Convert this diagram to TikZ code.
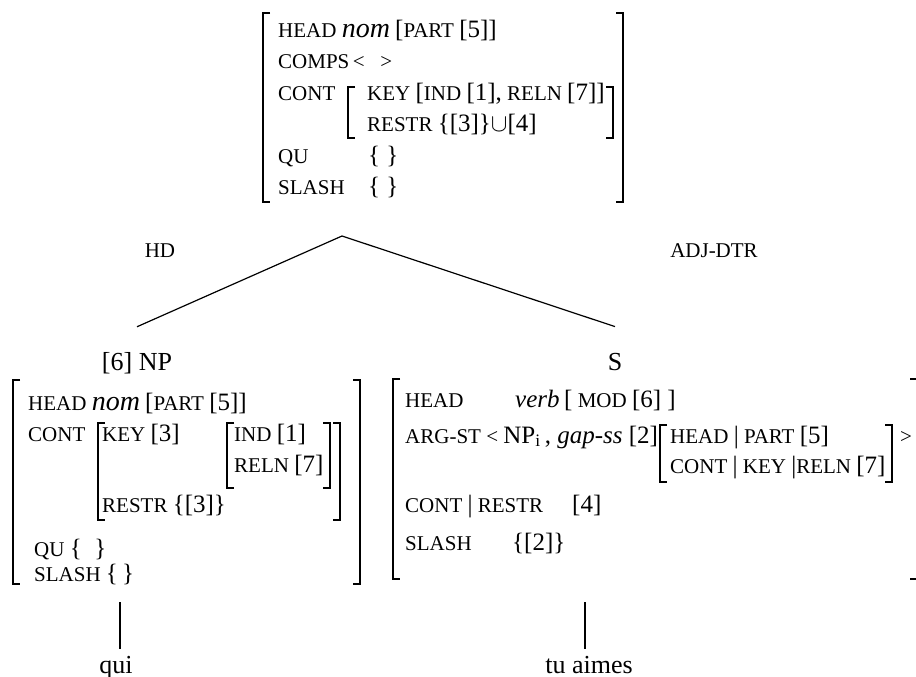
\documentclass[tikz,border=0pt]{standalone}
\usepackage{fontspec}
\setmainfont{Liberation Serif}
\newcommand\bg[1]{{\fontsize{25}{29}\selectfont #1}}
\newcommand\nm[1]{{\fontsize{28}{32}\selectfont\itshape #1}}
\newcommand\lbr[4][brk]{\draw[#1] (#2+7,#3) -- (#2,#3) -- (#2,#4) -- (#2+7,#4);}
\newcommand\rbr[4][brk]{\draw[#1] (#2-7,#3) -- (#2,#3) -- (#2,#4) -- (#2-7,#4);}
\tikzset{
  avm/.style={font=\fontsize{21}{25}\selectfont, anchor=base west, inner sep=0pt},
  word/.style={font=\fontsize{26}{30}\selectfont, anchor=base, inner sep=0pt},
  brk/.style={line width=1.7pt},
  ibrk/.style={line width=1.3pt},
  branch/.style={line width=1.2pt}
}
\begin{document}
\begin{tikzpicture}[x=1pt,y=-1pt]
  \useasboundingbox (0,0) rectangle (916,677);

  % mother
  \lbr{263}{13}{202} \rbr{623}{13}{202}
  \lbr[ibrk]{348}{87}{138} \rbr[ibrk]{613}{87}{138}
  \foreach \n/\y/\txt in {mHead/38/{HEAD \nm{nom} \bg{[}PART \bg{[5]]}},
      mComps/69/{COMPS\,<\ \ \ >}, mCont/100/CONT, mQu/163/QU, mSlash/194/SLASH}
    \node[avm] (\n) at (278,\y) {\txt};
  \node[avm] (mKey) at (367,100) {KEY \bg{[}IND \bg{[1],} RELN \bg{[7]]}};
  \node[avm] (mRestr) at (367,131) {RESTR \bg{\{[3]\}$\cup$[4]}};
  \node[avm] (mQuV) at (368,163) {\bg{\{\ \}}};
  \node[avm] (mSlashV) at (368,194) {\bg{\{\ \}}};

  % tree
  \coordinate (apex) at (342,236);
  \node[avm, anchor=base] (hd) at (160,257) {HD};
  \node[avm, anchor=base] (adj) at (714,257) {ADJ-DTR};
  \node[word] (np) at (137,370) {[6] NP};
  \node[word] (s) at (615,370) {S};
  \draw[branch] (apex) -- ([yshift=25pt]np.north);
  \draw[branch] (apex) -- ([yshift=26pt]s.north);

  % head daughter
  \lbr{13}{380}{584} \rbr{360}{380}{584}
  \lbr[ibrk]{98}{423}{520} \rbr[ibrk]{340}{423}{520}
  \lbr[ibrk]{227}{423}{488} \rbr[ibrk]{330}{423}{488}
  \node[avm] (nHead) at (28,410) {HEAD \nm{nom} \bg{[}PART \bg{[5]]}};
  \node[avm] (nCont) at (28,441) {CONT};
  \node[avm] (nKey) at (102,441) {KEY \bg{[3]}};
  \node[avm] (nRestr) at (102,512) {RESTR \bg{\{[3]\}}};
  \node[avm] (nInd) at (234,441) {IND \bg{[1]}};
  \node[avm] (nReln) at (234,472) {RELN \bg{[7]}};
  \node[avm] (nQu) at (34,556) {QU \bg{\{\ \ \}}};
  \node[avm] (nSlash) at (34,581) {SLASH \bg{\{\,\}}};

  % adjunct daughter
  \lbr{393}{379}{579} \rbr{917}{379}{579}
  \lbr[ibrk]{660}{425}{482} \rbr[ibrk]{892}{425}{482}
  \node[avm] (sHead) at (405,407) {HEAD};
  \node[avm] (sVerb) at (515,407) {\bg{\textit{verb}}};
  \node[avm] (sMod) at (564,407) {\bg{[} MOD \bg{[6] ]}};
  \node[avm] (sArg) at (405,443) {ARG-ST < \bg{NP\textsubscript{i}\,, \textit{gap-ss} [2]}};
  \node[avm] (sPart) at (670,443) {HEAD \bg{|} PART \bg{[5]}};
  \node[avm] (sReln) at (670,473) {CONT \bg{|} KEY \bg{|}RELN \bg{[7]}};
  \node[avm] (sClose) at (900,443) {>};
  \node[avm] (sRestr) at (405,512) {CONT \bg{|} RESTR};
  \node[avm] (sRestrV) at (572,512) {\bg{[4]}};
  \node[avm] (sSlash) at (405,550) {SLASH};
  \node[avm] (sSlashV) at (512,550) {\bg{\{[2]\}}};

  % words
  \coordinate (npFoot) at (120,602);
  \coordinate (sFoot) at (585,602);
  \node[word] (qui) at (116,673) {qui};
  \node[word] (tu) at (589,673) {tu aimes};
  \draw[branch, shorten >=7pt] (npFoot) -- (npFoot |- qui.north);
  \draw[branch, shorten >=7pt] (sFoot) -- (sFoot |- tu.north);
\end{tikzpicture}
\end{document}
